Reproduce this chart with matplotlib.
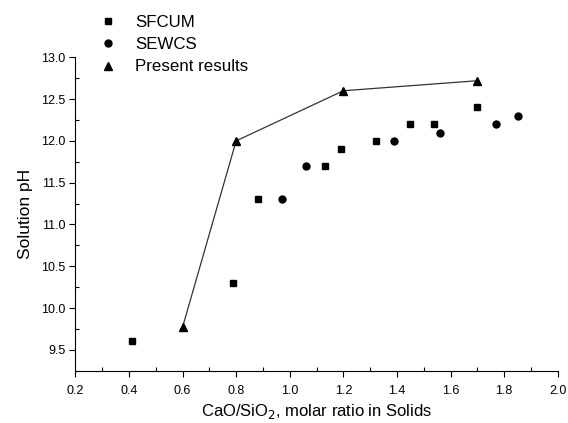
import matplotlib
matplotlib.use("Agg")
import matplotlib.pyplot as plt
from matplotlib.lines import Line2D
from matplotlib.ticker import MultipleLocator

plt.rcParams['font.family'] = ['Liberation Sans', 'DejaVu Sans']

sfcum_x = [0.41, 0.79, 0.88, 1.13, 1.19, 1.32, 1.45, 1.54, 1.70]
sfcum_y = [9.6, 10.3, 11.3, 11.7, 11.9, 12.0, 12.2, 12.2, 12.4]
sewcs_x = [0.97, 1.06, 1.39, 1.56, 1.77, 1.85]
sewcs_y = [11.3, 11.7, 12.0, 12.1, 12.2, 12.3]
present_x = [0.6, 0.8, 1.2, 1.7]
present_y = [9.77, 12.0, 12.6, 12.72]

fig = plt.figure(figsize=(5.68, 4.23), dpi=100)
ax = fig.add_axes([0.1326, 0.1236, 0.8494, 0.7409])

ax.plot(sfcum_x, sfcum_y, linestyle='none', marker='s', color='black', markersize=5, label='SFCUM')
ax.plot(sewcs_x, sewcs_y, linestyle='none', marker='o', color='black', markersize=5, label='SEWCS')
ax.plot(present_x, present_y, linestyle='-', color='#333333', linewidth=0.9, marker='^',
        markerfacecolor='black', markeredgecolor='black', markersize=6, label='Present results')

ax.set_xlim(0.2, 2.0)
ax.set_ylim(9.25, 13.0)
ax.xaxis.set_major_locator(MultipleLocator(0.2))
ax.xaxis.set_minor_locator(MultipleLocator(0.1))
ax.yaxis.set_major_locator(MultipleLocator(0.5))
ax.yaxis.set_minor_locator(MultipleLocator(0.25))
ax.tick_params(which='major', direction='out', length=4, width=0.8, labelsize=9)
ax.tick_params(axis='x', which='major', pad=6)
ax.tick_params(axis='y', which='major', pad=3)
ax.tick_params(which='minor', direction='in', length=3, width=0.8)
for s in ['top', 'right']:
    ax.spines[s].set_visible(False)
for s in ['left', 'bottom']:
    ax.spines[s].set_linewidth(0.8)

ax.set_xlabel('CaO/SiO$_2$, molar ratio in Solids', fontsize=12, labelpad=4)
ax.set_ylabel('Solution pH', fontsize=12.5, labelpad=6)

handles = [Line2D([], [], linestyle='none', marker='s', color='black', markersize=5),
           Line2D([], [], linestyle='none', marker='o', color='black', markersize=5),
           Line2D([], [], linestyle='none', marker='^', color='black', markersize=6)]
fig.legend(handles, ['SFCUM', 'SEWCS', 'Present results'], loc='upper left',
           bbox_to_anchor=(0.145, 1.0), frameon=False, fontsize=12.2,
           handletextpad=1.0, labelspacing=0.42, handlelength=1.2)

fig.savefig('out.png', dpi=100)
